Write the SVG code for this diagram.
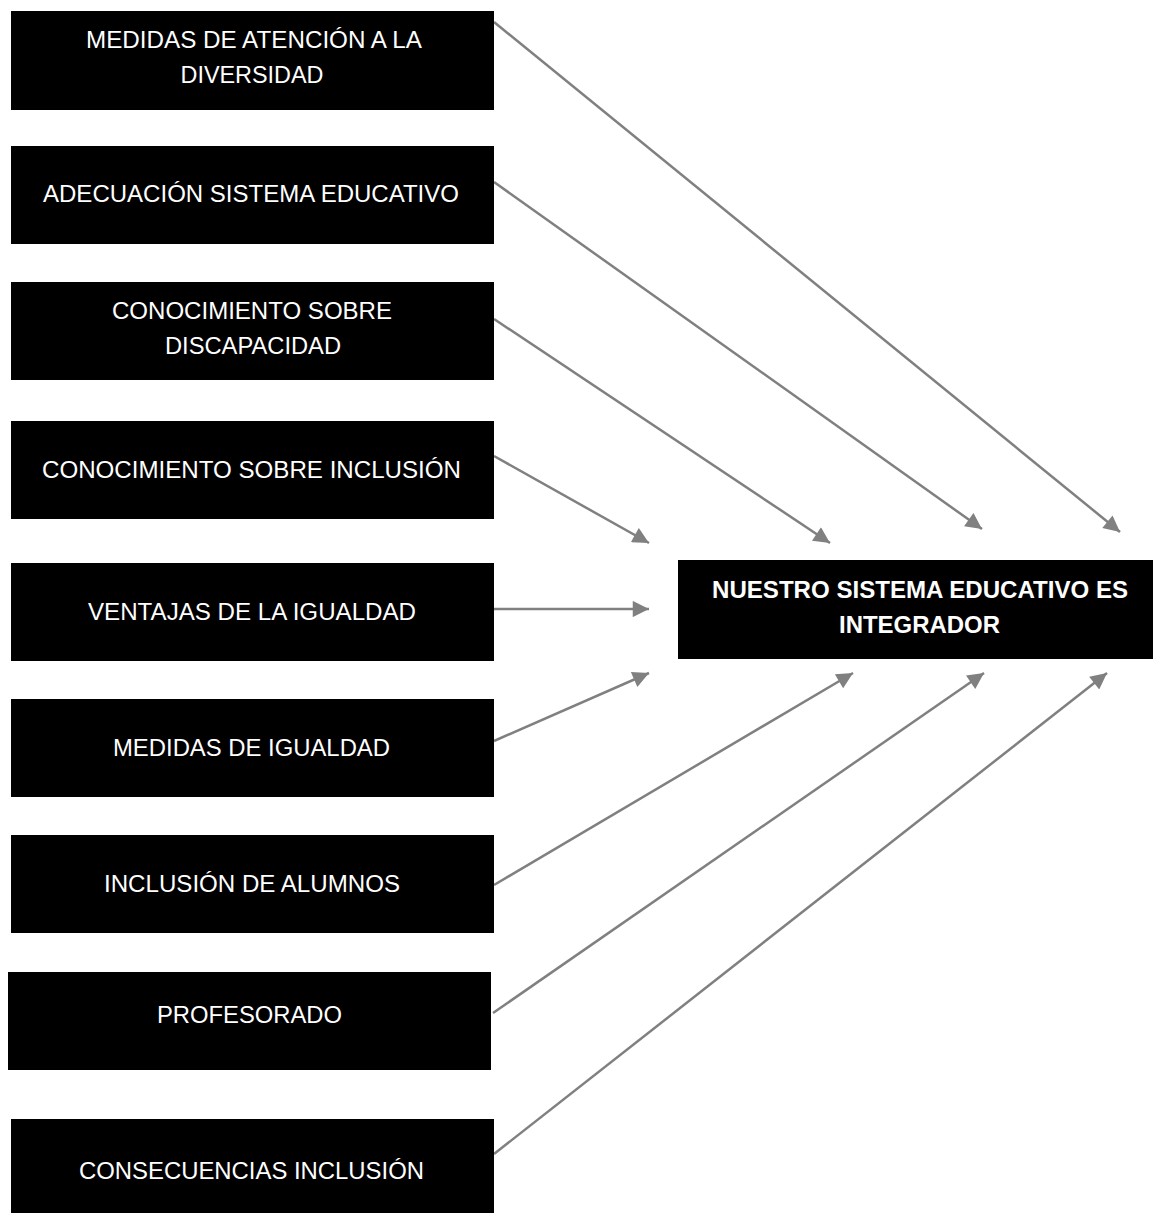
<svg xmlns="http://www.w3.org/2000/svg" width="1153" height="1213" viewBox="0 0 1153 1213">
<style>
.box{fill:#000}
.t{fill:#fff;font-family:"Liberation Sans",Arial,sans-serif;font-size:23px;text-anchor:middle}
.tb{fill:#fff;font-family:"Liberation Sans",Arial,sans-serif;font-size:24px;font-weight:bold;text-anchor:middle}
.c{stroke:#808080;stroke-width:2.5;fill:none;marker-end:url(#ah)}
</style>
<defs>
<marker id="ah" viewBox="0 0 10 10" refX="10" refY="5" markerWidth="7" markerHeight="6.5" markerUnits="strokeWidth" orient="auto">
<path d="M0,0 L10,5 L0,10 z" fill="#808080"/>
</marker>
</defs>
<rect width="1153" height="1213" fill="#fff"/>
<g id="connectors">
<line class="c" x1="494" y1="22" x2="1120" y2="532"/>
<line class="c" x1="494" y1="182" x2="982" y2="529"/>
<line class="c" x1="494" y1="319" x2="830" y2="543"/>
<line class="c" x1="494" y1="456" x2="649" y2="543"/>
<line class="c" x1="494" y1="609" x2="649" y2="609"/>
<line class="c" x1="494" y1="741" x2="649" y2="673"/>
<line class="c" x1="494" y1="885" x2="853" y2="673"/>
<line class="c" x1="493" y1="1013" x2="984" y2="673"/>
<line class="c" x1="494" y1="1154" x2="1107" y2="673"/>
</g>
<g id="n1"><rect class="box" x="11" y="11" width="483" height="99"/><text class="t" x="254" y="48" textLength="336" lengthAdjust="spacingAndGlyphs">MEDIDAS DE ATENCIÓN A LA</text><text class="t" x="252" y="83" textLength="143" lengthAdjust="spacingAndGlyphs">DIVERSIDAD</text></g>
<g id="n2"><rect class="box" x="11" y="146" width="483" height="98"/><text class="t" x="251" y="202" textLength="416" lengthAdjust="spacingAndGlyphs">ADECUACIÓN SISTEMA EDUCATIVO</text></g>
<g id="n3"><rect class="box" x="11" y="282" width="483" height="98"/><text class="t" x="252" y="319" textLength="280" lengthAdjust="spacingAndGlyphs">CONOCIMIENTO SOBRE</text><text class="t" x="253" y="354" textLength="176" lengthAdjust="spacingAndGlyphs">DISCAPACIDAD</text></g>
<g id="n4"><rect class="box" x="11" y="421" width="483" height="98"/><text class="t" x="251.5" y="478" textLength="419" lengthAdjust="spacingAndGlyphs">CONOCIMIENTO SOBRE INCLUSIÓN</text></g>
<g id="n5"><rect class="box" x="11" y="563" width="483" height="98"/><text class="t" x="252" y="620" textLength="328" lengthAdjust="spacingAndGlyphs">VENTAJAS DE LA IGUALDAD</text></g>
<g id="n6"><rect class="box" x="11" y="699" width="483" height="98"/><text class="t" x="251.5" y="756" textLength="277" lengthAdjust="spacingAndGlyphs">MEDIDAS DE IGUALDAD</text></g>
<g id="n7"><rect class="box" x="11" y="835" width="483" height="98"/><text class="t" x="252" y="892" textLength="296" lengthAdjust="spacingAndGlyphs">INCLUSIÓN DE ALUMNOS</text></g>
<g id="n8"><rect class="box" x="8" y="972" width="483" height="98"/><text class="t" x="249.5" y="1023" textLength="185" lengthAdjust="spacingAndGlyphs">PROFESORADO</text></g>
<g id="n9"><rect class="box" x="11" y="1119" width="483" height="98"/><text class="t" x="251.5" y="1179" textLength="345" lengthAdjust="spacingAndGlyphs">CONSECUENCIAS INCLUSIÓN</text></g>
<g id="main"><rect class="box" x="678" y="560" width="475" height="99"/><text class="tb" x="920" y="598" textLength="416" lengthAdjust="spacingAndGlyphs">NUESTRO SISTEMA EDUCATIVO ES</text><text class="tb" x="919.5" y="633" textLength="161" lengthAdjust="spacingAndGlyphs">INTEGRADOR</text></g>
</svg>
